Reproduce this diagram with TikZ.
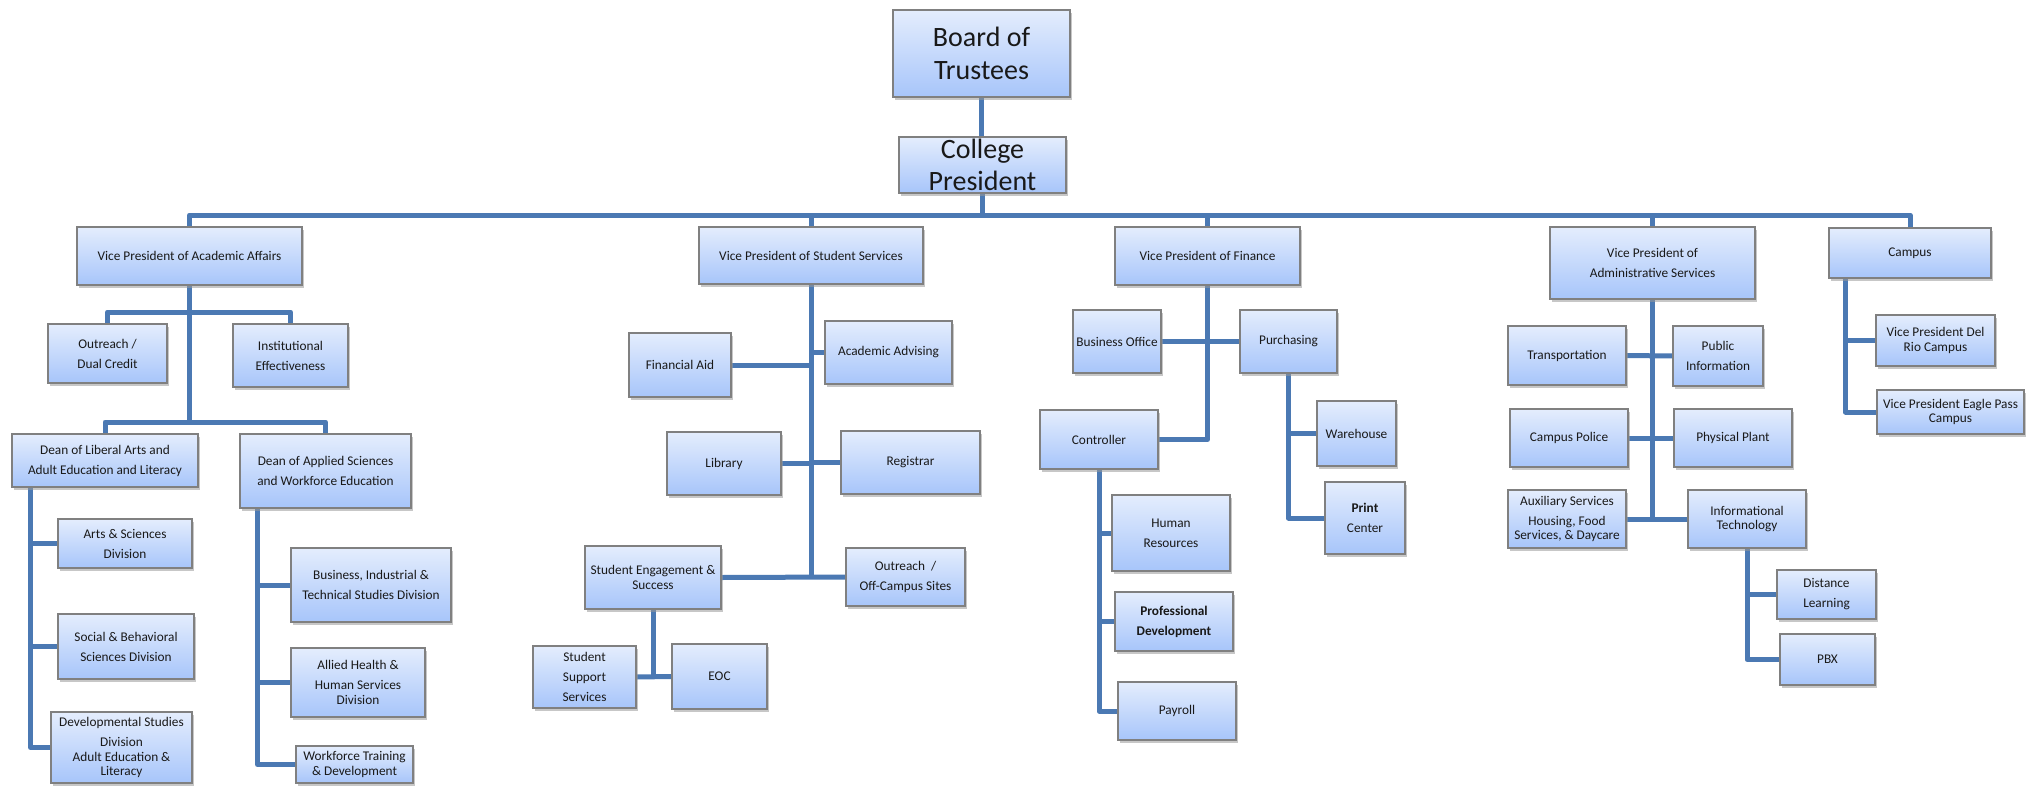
\documentclass[tikz,border=0pt]{standalone}
\usepackage{fontspec}
\setmainfont{Carlito}
\usetikzlibrary{shadows,backgrounds}
\definecolor{boxtop}{HTML}{E4EDFD}
\definecolor{boxbot}{HTML}{A7C5FA}
\definecolor{boxedge}{HTML}{808080}
\definecolor{linkc}{HTML}{4B79B3}
\pgfdeclarelayer{paper}
\pgfsetlayers{paper,background,main}
\tikzset{
  x=1pt, y=-1pt,
  box/.style={draw=boxedge, line width=1.1pt, top color=boxtop, bottom color=boxbot,
    align=center, inner sep=1pt, text=black!90,
    font=\fontsize{13.3}{20}\selectfont,
    drop shadow={shadow xshift=1.5pt, shadow yshift=-3pt, fill=black!40, opacity=.55}},
  big/.style={box, font=\fontsize{28}{33}\selectfont, inner sep=0pt},
  sz/.style 2 args={minimum width=#1, minimum height=#2},
  conn/.style={draw=linkc, line width=5pt, line join=round}
}
\begin{document}
\begin{tikzpicture}
\begin{pgfonlayer}{paper}
\fill[white] (0,0) rectangle (2034,787);
\end{pgfonlayer}
\useasboundingbox (0,0) rectangle (2034,787);
% top
\node[big, sz={177}{87}] (board) at (981.5,53.5) {Board of\\Trustees};
\node[big, sz={167}{56}, font=\fontsize{28}{32}\selectfont] (pres) at (982.5,165) {College\\President};
% VPs
\node[box, sz={225}{58}] (vpaa) at (189.5,256) {Vice President of Academic Affairs};
\node[box, sz={224}{57}] (vpss) at (811,255.5) {Vice President of Student Services};
\node[box, sz={185}{58}] (vpf) at (1207.5,256) {Vice President of Finance};
\node[box, sz={205}{72}] (vpadm) at (1652.5,263) {Vice President of\\Administrative Services};
\node[box, sz={162}{50}] (campus) at (1910,253) {Campus};
% academic affairs
\node[box, sz={119}{59}] (outreach) at (107.5,353.5) {Outreach /\\Dual Credit};
\node[box, sz={115}{63}] (insteff) at (290.5,355.5) {Institutional\\Effectiveness};
\node[box, sz={186}{53}] (deanla) at (105,460.5) {Dean of Liberal Arts and\\Adult Education and Literacy};
\node[box, sz={171}{74}] (deanas) at (325.5,471) {Dean of Applied Sciences\\and Workforce Education};
\node[box, sz={134}{49}] (arts) at (125,543.5) {Arts \& Sciences\\Division};
\node[box, sz={136}{65}] (social) at (126,646.5) {Social \& Behavioral\\Sciences Division};
\node[box, sz={141}{71}] (devel) at (121.5,747.5) {Developmental Studies\\Division\\[-5.5pt]Adult Education \&\\[-5.5pt]Literacy};
\node[box, sz={160}{74}] (busind) at (371,585) {Business, Industrial \&\\Technical Studies Division};
\node[box, sz={134}{69}] (allied) at (358,682.5) {Allied Health \&\\Human Services\\[-5.5pt]Division};
\node[box, sz={117}{37}] (workf) at (354.5,764.5) {Workforce Training\\[-5.5pt]\& Development};
% student services
\node[box, sz={102}{64}] (finaid) at (680,365) {Financial Aid};
\node[box, sz={127}{63}] (acadadv) at (888.5,352.5) {Academic Advising};
\node[box, sz={114}{63}] (library) at (724,463.5) {Library};
\node[box, sz={139}{63}] (registrar) at (910.5,462.5) {Registrar};
\node[box, sz={136}{63}] (ses) at (653,577.5) {Student Engagement \&\\[-5.5pt]Success};
\node[box, sz={119}{58}] (outoff) at (905.5,577) {Outreach~~/\\Off-Campus Sites};
\node[box, sz={103}{62}] (sss) at (584.5,677) {Student\\Support\\Services};
\node[box, sz={95}{65}] (eoc) at (719.5,676.5) {EOC};
% finance
\node[box, sz={88}{63}] (busoff) at (1117,341.5) {Business Office};
\node[box, sz={97}{63}] (purch) at (1288.5,341.5) {Purchasing};
\node[box, sz={118}{59}] (ctrl) at (1099,439.5) {Controller};
\node[box, sz={118}{76}] (hr) at (1171,533) {Human\\Resources};
\node[box, sz={118}{59}] (profdev) at (1174,621.5) {\bfseries Professional\\\bfseries Development};
\node[box, sz={118}{58}] (payroll) at (1177,711) {Payroll};
\node[box, sz={79}{65}] (warehouse) at (1356.5,433.5) {Warehouse};
\node[box, sz={80}{72}] (print) at (1365,518) {\bfseries Print\\Center};
% administrative services
\node[box, sz={118}{59}] (transp) at (1567,355.5) {Transportation};
\node[box, sz={90}{60}] (pubinfo) at (1718,356) {Public\\Information};
\node[box, sz={118}{58}] (police) at (1569,438) {Campus Police};
\node[box, sz={118}{58}] (physplant) at (1733,438) {Physical Plant};
\node[box, sz={118}{58}] (aux) at (1567,519) {Auxiliary Services\\Housing, Food\\[-5.5pt]Services, \& Daycare};
\node[box, sz={118}{58}] (it) at (1747,519) {Informational\\[-5.5pt]Technology};
\node[box, sz={99}{49}] (distance) at (1826.5,594.5) {Distance\\Learning};
\node[box, sz={95}{51}] (pbx) at (1827.5,659.5) {PBX};
% campus
\node[box, sz={119}{51}] (delrio) at (1935.5,340.5) {Vice President Del\\[-5.5pt]Rio Campus};
\node[box, sz={147}{44}] (eagle) at (1950.5,412) {Vice President Eagle Pass\\[-5.5pt]Campus};

\coordinate (bus) at (0,215);
\coordinate (b1) at (0,312);
\coordinate (b2) at (0,422);
\coordinate (laT) at ([xshift=19pt]deanla.south west);
\coordinate (asT) at ([xshift=18pt]deanas.south west);
\coordinate (cpT) at ([xshift=17pt]campus.south west);

\begin{scope}[on background layer]
\draw[conn] (board.south) -- (board.south |- pres.north);
\draw[conn] (pres.south) -- (pres.south |- bus);
\draw[conn] (vpaa.north) |- (campus.north |- bus) -- (campus.north);
\draw[conn] (vpss.north) -- (vpss.north |- bus);
\draw[conn] (vpf.north) -- (vpf.north |- bus);
\draw[conn] (vpadm.north) -- (vpadm.north |- bus);
% academic affairs
\draw[conn] (vpaa.south) -- (vpaa.south |- b2);
\draw[conn] (outreach.north) -- (outreach.north |- b1) -- (insteff.north |- b1) -- (insteff.north);
\draw[conn] (deanla.north) -- (deanla.north |- b2) -- (deanas.north |- b2) -- (deanas.north);
\draw[conn] (laT) |- (devel.west);
\draw[conn] (arts.west) -- (arts.west -| laT);
\draw[conn] (social.west) -- (social.west -| laT);
\draw[conn] (asT) |- (workf.west);
\draw[conn] (busind.west) -- (busind.west -| asT);
\draw[conn] (allied.west) -- (allied.west -| asT);
% student services
\draw[conn] (vpss.south) -- (vpss.south |- ses.east);
\draw[conn] (ses.east) -- (outoff.west);
\draw[conn] (finaid.east) -- (finaid.east -| vpss.south);
\draw[conn] (acadadv.west) -- (acadadv.west -| vpss.south);
\draw[conn] (library.east) -- (library.east -| vpss.south);
\draw[conn] (registrar.west) -- (registrar.west -| vpss.south);
\draw[conn] (ses.south) -- (ses.south |- sss.east);
\draw[conn] (sss.east) -- (eoc.west);
% finance
\draw[conn] (vpf.south) |- (ctrl.east);
\draw[conn] (busoff.east) -- (purch.west);
\draw[conn] (ctrl.south) |- (payroll.west);
\draw[conn] (hr.west) -- (hr.west -| ctrl.south);
\draw[conn] (profdev.west) -- (profdev.west -| ctrl.south);
\draw[conn] (purch.south) |- (print.west);
\draw[conn] (warehouse.west) -- (warehouse.west -| purch.south);
% administrative
\draw[conn] (vpadm.south) -- (vpadm.south |- aux.east);
\draw[conn] (transp.east) -- (pubinfo.west);
\draw[conn] (police.east) -- (physplant.west);
\draw[conn] (aux.east) -- (it.west);
\draw[conn] (it.south) |- (pbx.west);
\draw[conn] (distance.west) -- (distance.west -| it.south);
% campus
\draw[conn] (cpT) |- (eagle.west);
\draw[conn] (delrio.west) -- (delrio.west -| cpT);
\end{scope}
\end{tikzpicture}
\end{document}
